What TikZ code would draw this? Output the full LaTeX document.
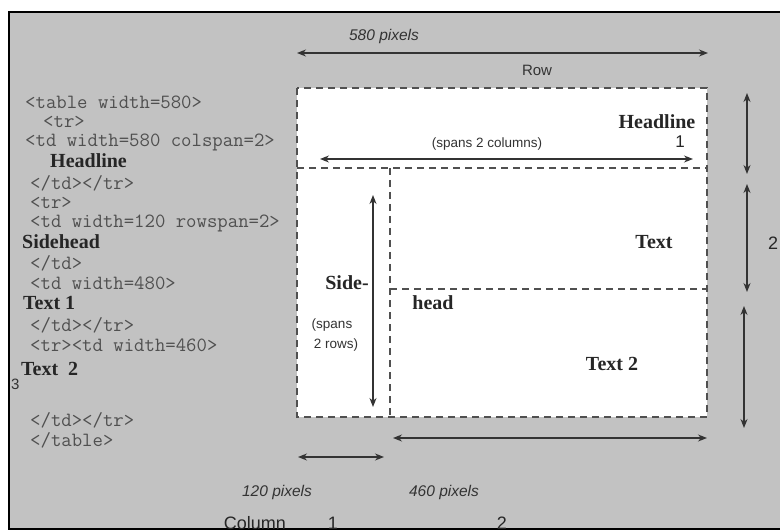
\documentclass[tikz,border=0pt]{standalone}
\usepackage{fontspec}
\setmainfont{Liberation Serif}
\setsansfont{Liberation Sans}
\usetikzlibrary{arrows.meta, positioning}
\definecolor{panelgray}{RGB}{194,194,194}
\definecolor{codegray}{RGB}{80,80,80}
\definecolor{cellgray}{RGB}{80,80,80}
\newcommand{\fs}[1]{\fontsize{#1}{#1}\selectfont}

\begin{document}
\begin{tikzpicture}[x=1pt, y=-1pt,
    code/.style={anchor=west, inner sep=0pt, font=\ttfamily\fs{20.2}, text=codegray},
    codebold/.style={anchor=west, inner sep=0pt, font=\bfseries\fs{20}, text=black!85},
    cellbold/.style={inner sep=0pt, font=\bfseries\fs{20}, text=black!85},
    lab/.style={inner sep=0pt, font=\sffamily\fs{13.5}, text=black!80},
    pix/.style={inner sep=0pt, font=\sffamily\itshape\fs{15.5}, text=black!80},
    colnum/.style={inner sep=0pt, font=\sffamily\fs{18}, text=black!85},
    dim/.style={line width=1.3pt, black!80,
        {Stealth[length=9pt,width=7pt]}-{Stealth[length=9pt,width=7pt]}},
    cellline/.style={line width=1.4pt, cellgray, dash pattern=on 7pt off 5pt}]
    \useasboundingbox (0,0) rectangle (780,532);
    % ---- PANNELLO ----
    \fill[white] (0,0) rectangle (780,532);
    \draw[line width=2pt, fill=panelgray] (9,12) rectangle (800,529);

    % ---- CODICE HTML ----
    \node[code] (c1) at (25,102) {<table width=580>};
    \node[code] (c2) at (43,122) {<tr>};
    \node[code] (c3) at (25,142) {<td width=580 colspan=2>};
    \node[codebold] (c4) at (50,161) {Headline};
    \node[code] (c5) at (30,183) {</td></tr>};
    \node[code] (c6) at (30,203) {<tr>};
    \node[code] (c7) at (30,223) {<td width=120 rowspan=2>};
    \node[codebold] (c8) at (22,242) {Sidehead};
    \node[code] (c9) at (30,263) {</td>};
    \node[code] (c10) at (30,283) {<td width=480>};
    \node[codebold] (c11) at (23,303) {Text 1};
    \node[code] (c12) at (30,325) {</td></tr>};
    \node[code] (c13) at (30,345) {<tr><td width=460>};
    \node[codebold] (c14) at (21,369) {Text\ \ 2};
    \node[lab, anchor=west, font=\sffamily\fs{15}] (c15) at (11,384) {3};
    \node[code] (c16) at (30,420) {</td></tr>};
    \node[code] (c17) at (30,440) {</table>};

    % ---- TABELLA ----
    \coordinate (tl) at (297,88);
    \coordinate (br) at (707,417);
    \fill[white] (tl) rectangle (br);
    \draw[cellline] (tl) rectangle (br);
    \draw[cellline] (297,168) -- (707,168);
    \draw[cellline] (390,168) -- (390,417);
    \draw[cellline] (390,289) -- (707,289);

    % ---- TESTI NELLE CELLE ----
    \node[cellbold] (headline) at (657,122) {Headline};
    \node[colnum, font=\sffamily\fs{17}] (headnum) at (680,142) {1};
    \node[lab] (spancols) at (487,144) {(spans 2 columns)};
    \node[cellbold] (side) at (347,283) {Side-};
    \node[cellbold] (head) at (433,303) {head};
    \node[lab] (spansa) at (332,325) {(spans};
    \node[lab] (spansb) at (336,345) {2 rows)};
    \node[cellbold] (text1) at (654,242) {Text};
    \node[cellbold] (text2) at (612,364) {Text 2};

    % ---- FRECCE ----
    \node[pix] (px580) at (384,36) {580 pixels};
    \node[lab, font=\sffamily\fs{15}] (row) at (537,70) {Row};
    \coordinate (w1) at (297,53);  \coordinate (w2) at (708,53);
    \draw[dim] (w1) -- (w2);
    \coordinate (sc1) at (320,159); \coordinate (sc2) at (693,159);
    \draw[dim] (sc1) -- (sc2);
    \coordinate (sr1) at (373,195); \coordinate (sr2) at (373,407);
    \draw[dim] (sr1) -- (sr2);
    \coordinate (r1a) at (747,93);  \coordinate (r1b) at (747,174);
    \draw[dim] (r1a) -- (r1b);
    \coordinate (r2a) at (747,184); \coordinate (r2b) at (747,292);
    \draw[dim] (r2a) -- (r2b);
    \coordinate (r3a) at (744,306); \coordinate (r3b) at (744,428);
    \draw[dim] (r3a) -- (r3b);
    \node[colnum, anchor=west] (rownum) at (768,243) {2};
    \coordinate (b2a) at (393,438); \coordinate (b2b) at (707,438);
    \draw[dim] (b2a) -- (b2b);
    \coordinate (b1a) at (298,457); \coordinate (b1b) at (384,457);
    \draw[dim] (b1a) -- (b1b);

    % ---- DIDASCALIE IN BASSO ----
    \node[pix] (px120) at (277,492) {120 pixels};
    \node[pix] (px460) at (444,492) {460 pixels};
    \node[colnum] (column) at (255,523) {Column};
    \node[colnum] (col1) at (333,523) {1};
    \node[colnum] (col2) at (502,523) {2};
\end{tikzpicture}
\end{document}
